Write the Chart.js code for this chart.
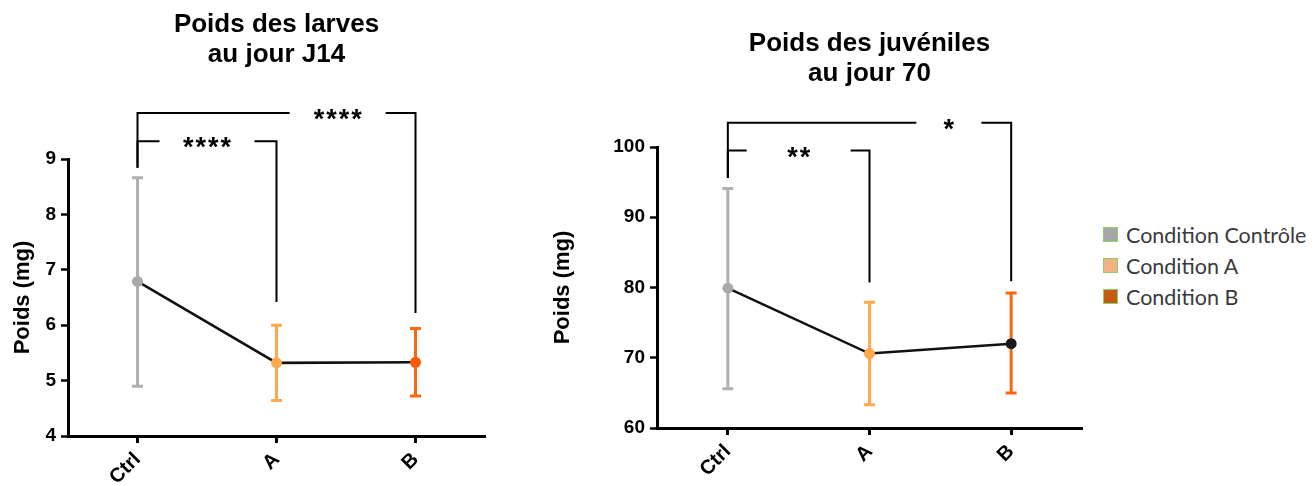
<!DOCTYPE html>
<html>
<head>
<meta charset="utf-8">
<script src="https://cdn.jsdelivr.net/npm/chart.js@4.4.0/dist/chart.umd.min.js"></script>
<style>
  body { margin: 0; background: #fff; width: 1313px; height: 486px; overflow: hidden; position: relative; }
  .box { position: absolute; top: 0; height: 486px; }
  #left { left: 0; width: 500px; }
  #right { left: 530px; width: 570px; }
  #legend { position: absolute; left: 1103px; top: 219px; font-family: Lato, sans-serif; font-size: 21.5px; color: #3a3a3a; }
  #legend div { height: 31px; display: flex; align-items: center; }
  #legend .sw { width: 13px; height: 13px; border: 1px solid #8fcf6a; margin-right: 8px; }
</style>
</head>
<body>
<div class="box" id="left"><canvas id="larves"></canvas></div>
<div class="box" id="right"><canvas id="juveniles"></canvas></div>
<div id="legend">
  <div><span class="sw" style="background:#a6a6a6"></span>Condition Contrôle</div>
  <div><span class="sw" style="background:#f4b183"></span>Condition A</div>
  <div><span class="sw" style="background:#c55a11"></span>Condition B</div>
</div>
<script>
// data
const categories = ["Ctrl", "A", "B"];

const larvesMean = [6.79, 5.32, 5.33];
const larvesLow = [4.90, 4.64, 4.72];
const larvesHigh = [8.66, 6.00, 5.94];

const juvMean = [79.9, 70.6, 72.0];
const juvLow = [65.6, 63.3, 65.0];
const juvHigh = [94.1, 77.9, 79.2];

// significance brackets: from / to category, label, level and leg ends (y values)
const larvesSig = [
  { from: 0, to: 2, label: "****", level: 9.83, legs: [8.84, 6.22] },
  { from: 0, to: 1, label: "****", level: 9.32, legs: [8.84, 6.42] },
];
const juvSig = [
  { from: 0, to: 2, label: "*", level: 103.45, legs: [95.6, 80.9] },
  { from: 0, to: 1, label: "**", level: 99.5, legs: [95.6, 80.7] },
];

// where the label sits on the bracket (category units) and gap width in px
const larvesGaps = [{ at: 1.44, gap: 96 }, { at: 0.5, gap: 95 }];
const juvGaps = [{ at: 1.56, gap: 65 }, { at: 0.5, gap: 104 }];

const barColors = ["#b0b0b0", "#ffa94d", "#ff6410"];
const larvesPointColors = ["#a9a9a9", "#ffa94d", "#ff5a00"];
const juvPointColors = ["#a9a9a9", "#ffa94d", "#1a1a1a"];

const FONT = "'Liberation Sans', Arial, sans-serif";

const errorBars = {
  id: "errorBars",
  beforeDatasetsDraw(chart, args, opts) {
    const { ctx, scales: { x, y } } = chart;
    ctx.save();
    ctx.lineWidth = 3;
    opts.low.forEach((lo, i) => {
      const px = x.getPixelForValue(i);
      const top = y.getPixelForValue(opts.high[i]);
      const bot = y.getPixelForValue(lo);
      ctx.strokeStyle = barColors[i];
      ctx.beginPath();
      ctx.moveTo(px, top);
      ctx.lineTo(px, bot);
      ctx.moveTo(px - 5.5, top);
      ctx.lineTo(px + 5.5, top);
      ctx.moveTo(px - 5.5, bot);
      ctx.lineTo(px + 5.5, bot);
      ctx.stroke();
    });
    ctx.restore();
  },
};

const brackets = {
  id: "brackets",
  afterDraw(chart, args, opts) {
    const { ctx, scales: { x, y } } = chart;
    ctx.save();
    ctx.strokeStyle = "#000";
    ctx.fillStyle = "#000";
    ctx.lineWidth = 2;
    ctx.font = "bold 27px " + FONT;
    ctx.textAlign = "center";
    ctx.textBaseline = "alphabetic";
    ctx.letterSpacing = "2px";
    opts.items.forEach((b, k) => {
      const g = opts.gaps[k];
      const x1 = x.getPixelForValue(b.from);
      const x2 = x.getPixelForValue(b.to);
      const yl = y.getPixelForValue(b.level);
      const xc = x.getPixelForValue(g.at);
      ctx.beginPath();
      ctx.moveTo(x1, y.getPixelForValue(b.legs[0]));
      ctx.lineTo(x1, yl);
      ctx.lineTo(xc - g.gap / 2, yl);
      ctx.moveTo(xc + g.gap / 2, yl);
      ctx.lineTo(x2, yl);
      ctx.lineTo(x2, y.getPixelForValue(b.legs[1]));
      ctx.stroke();
      ctx.fillText(b.label, xc + 1, yl + 15);
    });
    ctx.restore();
  },
};

function makeChart(id, cfg) {
  return new Chart(document.getElementById(id), {
    type: "line",
    data: {
      labels: categories,
      datasets: [{
        data: cfg.mean,
        borderColor: "#111",
        borderWidth: 2.5,
        pointRadius: 5.5,
        pointBorderWidth: 0,
        pointBackgroundColor: cfg.pointColors,
        tension: 0,
      }],
    },
    options: {
      responsive: true,
      maintainAspectRatio: false,
      animation: false,
      layout: { padding: { left: 0, right: cfg.padRight, top: 0, bottom: 0 } },
      plugins: {
        legend: { display: false },
        tooltip: { enabled: false },
        title: {
          display: true,
          fullSize: false,
          text: cfg.title,
          color: "#000",
          font: { family: FONT, size: 26, weight: "bold", lineHeight: 1.154 },
          padding: { top: cfg.titleTop, bottom: cfg.titleBottom },
        },
        errorBars: { low: cfg.low, high: cfg.high },
        brackets: { items: cfg.sig, gaps: cfg.gaps },
      },
      scales: {
        x: {
          type: "category",
          offset: true,
          afterFit(s) { s.height = cfg.xHeight; },
          border: { display: true, color: "#000", width: 3 },
          grid: { display: true, drawOnChartArea: false, drawTicks: true, tickLength: 7, tickColor: "#000", tickWidth: 3 },
          ticks: {
            color: "#000",
            minRotation: 45,
            maxRotation: 45,
            padding: 5,
            font: { family: FONT, size: 20, weight: "bold" },
          },
        },
        y: {
          min: cfg.min,
          max: cfg.max,
          afterFit(s) { s.width = cfg.yWidth; },
          border: { display: true, color: "#000", width: 3 },
          grid: { display: true, drawOnChartArea: false, drawTicks: true, tickLength: 7, tickColor: "#000", tickWidth: 2.5 },
          ticks: {
            stepSize: cfg.step,
            color: "#000",
            padding: 5,
            font: { family: FONT, size: 19, weight: "bold" },
          },
          title: {
            display: true,
            text: "Poids (mg)",
            color: "#000",
            font: { family: FONT, size: 22, weight: "bold", lineHeight: 1.2 },
            padding: { top: cfg.yTitlePad, bottom: 0 },
          },
        },
      },
    },
    plugins: [errorBars, brackets],
  });
}

makeChart("larves", {
  title: ["Poids des larves", "au jour J14"],
  mean: larvesMean, low: larvesLow, high: larvesHigh,
  sig: larvesSig, gaps: larvesGaps,
  pointColors: larvesPointColors,
  min: 4, max: 9, step: 1,
  yWidth: 68, xHeight: 50, padRight: 15,
  titleTop: 10, titleBottom: 89, yTitlePad: 10,
});

makeChart("juveniles", {
  title: ["Poids des juvéniles", "au jour 70"],
  mean: juvMean, low: juvLow, high: juvHigh,
  sig: juvSig, gaps: juvGaps,
  pointColors: juvPointColors,
  min: 60, max: 100, step: 10,
  yWidth: 127, xHeight: 58, padRight: 18,
  titleTop: 29, titleBottom: 58, yTitlePad: 20,
});
</script>
</body>
</html>
